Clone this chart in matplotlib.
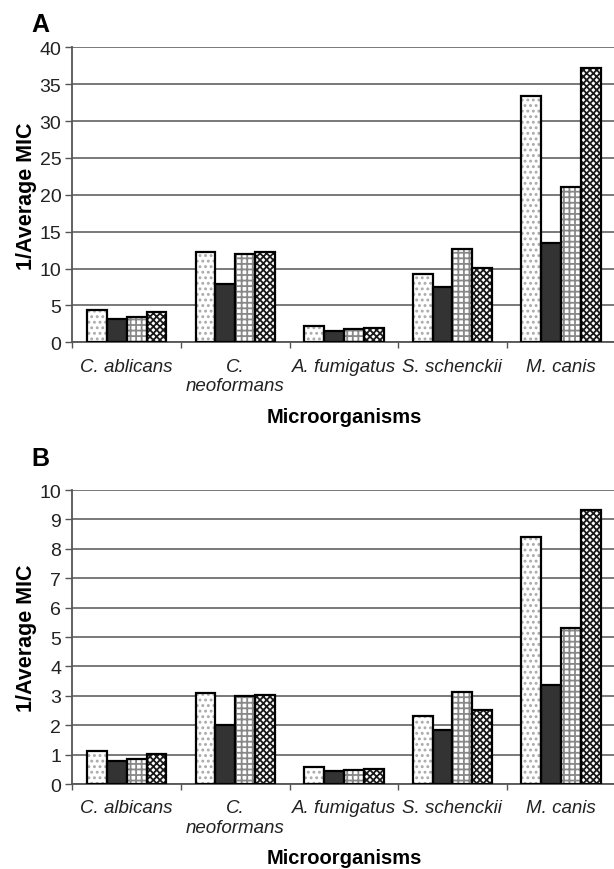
import numpy as np
import matplotlib
matplotlib.use('Agg')
import matplotlib.pyplot as plt

plt.rcParams['font.family'] = ['Liberation Sans', 'DejaVu Sans']
plt.rcParams['hatch.linewidth'] = 1.3

# Data
species_a = ['C. ablicans', 'C.\nneoformans', 'A. fumigatus', 'S. schenckii', 'M. canis']
species_b = ['C. albicans', 'C.\nneoformans', 'A. fumigatus', 'S. schenckii', 'M. canis']

# panel A: four series per organism
a_s1 = [4.4, 12.3, 2.2, 9.2, 33.4]
a_s2 = [3.1, 7.9, 1.6, 7.5, 13.5]
a_s3 = [3.4, 12.0, 1.8, 12.6, 21.1]
a_s4 = [4.1, 12.2, 2.0, 10.1, 37.2]

# panel B
b_s1 = [1.11, 3.08, 0.57, 2.30, 8.41]
b_s2 = [0.79, 2.00, 0.43, 1.85, 3.38]
b_s3 = [0.85, 3.00, 0.49, 3.12, 5.31]
b_s4 = [1.02, 3.04, 0.51, 2.52, 9.33]

# fill / hatch for each series
styles = [
    dict(color='white', hatch='...', hcolor='#aaaaaa'),
    dict(color='#333333', hatch=None, hcolor='#333333'),
    dict(color='white', hatch='+++', hcolor='#888888'),
    dict(color='white', hatch='xxxxx', hcolor='#1a1a1a'),
]


def draw_panel(ax, labels, series, ymax, ystep, letter, letter_y):
    x = np.arange(len(labels)) + 0.5
    w = 0.183
    offs = (np.arange(4) - 1.5) * w
    for vals, st, off in zip(series, styles, offs):
        # hatch layer first, then the black outline on top
        ax.bar(x + off, vals, w, color=st['color'], hatch=st['hatch'],
               edgecolor=st['hcolor'], linewidth=0, zorder=3)
        ax.bar(x + off, vals, w, fill=False, edgecolor='black',
               linewidth=1.6, zorder=4)

    ax.set_xlim(0, len(labels))
    ax.set_ylim(0, ymax)
    ax.set_yticks(np.arange(0, ymax + ystep / 2, ystep))
    ax.yaxis.grid(True, color='#6e6e6e', linewidth=1.3, zorder=0)
    ax.set_axisbelow(True)

    ax.set_xticks(x)
    ax.set_xticklabels(labels, style='italic', fontsize=13.5, color='#222222',
                       linespacing=1.2)
    ax.tick_params(axis='x', which='major', length=0, pad=11)
    ax.set_xticks(np.arange(0, len(labels) + 1), minor=True)
    ax.tick_params(axis='x', which='minor', length=4, width=1, color='#555555',
                   direction='out')
    ax.tick_params(axis='y', length=5, width=1, color='#555555',
                   labelsize=14, labelcolor='#222222', pad=3)

    for s in ['top', 'right']:
        ax.spines[s].set_visible(False)
    ax.spines['left'].set_color('#555555')
    ax.spines['left'].set_linewidth(1.3)
    ax.spines['bottom'].set_color('#555555')
    ax.spines['bottom'].set_linewidth(1.3)

    ax.set_ylabel('1/Average MIC', fontsize=15.5, fontweight='bold', labelpad=2)
    ax.set_xlabel('Microorganisms', fontsize=14.5, fontweight='bold', labelpad=9)
    ax.text(-0.042, letter_y, letter, transform=ax.transAxes, fontsize=18,
            fontweight='bold', ha='right', va='bottom')


fig = plt.figure(figsize=(6.14, 8.70), dpi=100)
ax_a = fig.add_axes([0.118, 0.6054, 0.884, 0.3391])
ax_b = fig.add_axes([0.118, 0.0977, 0.884, 0.3379])

draw_panel(ax_a, species_a, [a_s1, a_s2, a_s3, a_s4], 40, 5, 'A', 1.037)
draw_panel(ax_b, species_b, [b_s1, b_s2, b_s3, b_s4], 10, 1, 'B', 1.068)

fig.savefig('out.png', dpi=100)
